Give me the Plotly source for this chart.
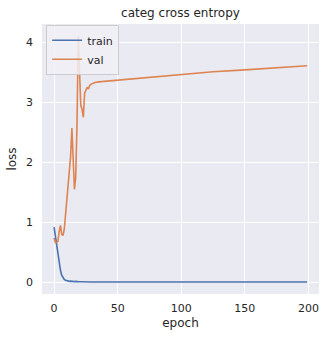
import plotly.graph_objects as go

# train loss per epoch (early epochs read individually, flat tail sampled)
train_epochs = list(range(0, 31)) + [40, 60, 80, 100, 120, 140, 160, 180, 199]
train_loss = [0.92, 0.76, 0.60, 0.45, 0.31, 0.20, 0.12, 0.075, 0.048, 0.032,
              0.025, 0.020, 0.016, 0.020, 0.013, 0.018, 0.011, 0.015, 0.010, 0.013,
              0.008, 0.009, 0.007, 0.008, 0.006, 0.006, 0.006, 0.005, 0.005, 0.005,
              0.005, 0.004, 0.004, 0.004, 0.004, 0.004, 0.004, 0.004, 0.004, 0.004]

# validation loss
val_epochs = list(range(0, 31)) + [32, 35, 50, 75, 100, 125, 150, 175, 199]
val_loss = [0.74, 0.66, 0.67, 0.68, 0.85, 0.95, 0.80, 0.78, 0.88, 1.10,
            1.35, 1.55, 1.75, 2.10, 2.57, 1.85, 1.55, 1.75, 2.60, 4.10,
            3.60, 2.95, 2.88, 2.75, 3.15, 3.22, 3.25, 3.22, 3.28, 3.30,
            3.31, 3.33, 3.34, 3.37, 3.42, 3.47, 3.51, 3.54, 3.58, 3.61]

x_ticks = [0, 50, 100, 150, 200]
y_ticks = [0, 1, 2, 3, 4]

fig = go.Figure()
fig.add_trace(go.Scatter(x=train_epochs, y=train_loss, mode="lines", name="train",
                         line=dict(color="#4C72B0", width=1.6)))
fig.add_trace(go.Scatter(x=val_epochs, y=val_loss, mode="lines", name="val",
                         line=dict(color="#DD8452", width=1.6)))

txt = "#262626"
fig.update_layout(
    width=326, height=338,
    margin=dict(l=42, r=7, t=24, b=44),
    paper_bgcolor="white", plot_bgcolor="#EAEAF2",
    font=dict(family="DejaVu Sans", size=11, color=txt),
    title=dict(text="categ cross entropy", x=(42 + 319) / 2 / 326, xanchor="center",
               y=1 - 13 / 338, yanchor="middle", font=dict(size=12, color=txt)),
    showlegend=True,
    legend=dict(x=0.015, y=0.997, xanchor="left", yanchor="top",
                bgcolor="rgba(240,240,246,0.85)", bordercolor="#CCCCCC", borderwidth=1,
                font=dict(size=11, color=txt), itemwidth=30, tracegroupgap=0),
)
fig.update_xaxes(range=[-9.5, 208.3], tickvals=x_ticks, showgrid=True, gridcolor="white",
                 gridwidth=1, zeroline=False, showline=False, ticks="",
                 ticklabelstandoff=6,
                 title=dict(text="epoch", font=dict(size=12, color=txt), standoff=4))
fig.update_yaxes(range=[-0.195, 4.305], tickvals=y_ticks, showgrid=True, gridcolor="white",
                 gridwidth=1, zeroline=False, showline=False, ticks="",
                 ticklabelstandoff=8,
                 title=dict(text="loss", font=dict(size=12, color=txt), standoff=6))

fig.write_html("out.html")
